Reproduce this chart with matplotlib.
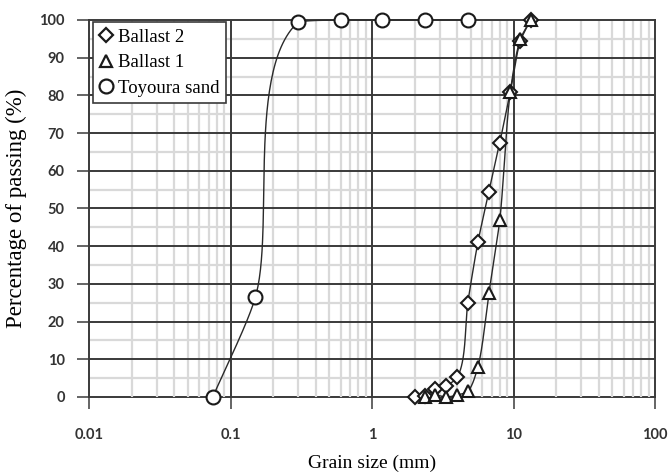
import numpy as np
import matplotlib
matplotlib.use("Agg")
import matplotlib.pyplot as plt
from matplotlib.lines import Line2D
from matplotlib.ticker import NullLocator, FixedLocator
from matplotlib.font_manager import FontProperties

# Sieve sizes (mm) and percentage passing for each material
toyoura_size = [0.075, 0.15, 0.3, 0.6, 1.18, 2.36, 4.75]
toyoura_pass = [0.0, 26.5, 99.4, 100.0, 100.0, 100.0, 100.0]

ballast1_size = [2.36, 2.8, 3.35, 4.0, 4.75, 5.6, 6.7, 8.0, 9.5, 11.2, 13.2]
ballast1_pass = [0.0, 0.5, 0.0, 0.5, 1.5, 8.0, 27.5, 47.0, 81.0, 95.0, 100.0]

ballast2_size = [2.0, 2.36, 2.8, 3.35, 4.0, 4.75, 5.6, 6.7, 8.0, 9.5, 11.2, 13.2]
ballast2_pass = [0.0, 0.3, 2.0, 3.0, 5.2, 25.0, 41.0, 54.5, 67.5, 81.0, 94.5, 100.0]

x_ticks = [0.01, 0.1, 1, 10, 100]
x_tick_labels = ["0.01", "0.1", "1", "10", "100"]
y_ticks = list(range(0, 101, 10))

DARK = "#3a3a3a"
LIGHT = "#d9d9d9"
TICK_TXT = "#333333"

fig = plt.figure(figsize=(6.72, 4.73), dpi=100)
ax = fig.add_axes([89 / 672, 1 - 397 / 473, 566 / 672, 377 / 473])
ax.set_xscale("log")

# grid: light minor lines, dark major lines
minor_x = [k * 10.0 ** d for d in range(-2, 2) for k in range(2, 10)]
minor_y = list(range(5, 100, 10))
ax.vlines(minor_x, 0, 100, colors=LIGHT, lw=1.6, zorder=1.0)
ax.hlines(minor_y, 0.01, 100, colors=LIGHT, lw=1.6, zorder=1.0)
ax.hlines(y_ticks[1:-1], 0.01, 100, colors=DARK, lw=1.4, zorder=1.2)
ax.vlines(x_ticks[1:-1], 0, 100, colors=DARK, lw=1.4, zorder=1.2)

ax.set_xlim(0.01, 100)
ax.set_ylim(0, 100)

for name, sp in ax.spines.items():
    sp.set_color(DARK)
    sp.set_linewidth(1.4)
ax.spines["bottom"].set_zorder(0.9)

ax.xaxis.set_major_locator(FixedLocator(x_ticks))
ax.xaxis.set_minor_locator(NullLocator())
ax.set_xticklabels(x_tick_labels)
ax.set_yticks(y_ticks)
ax.yaxis.set_minor_locator(NullLocator())

tick_font = FontProperties(family="Lato", weight="bold", size=10.5)
ax.tick_params(axis="x", which="major", direction="out", length=8.5, width=1.1,
               color=DARK, pad=14, labelcolor=TICK_TXT)
ax.tick_params(axis="y", which="major", direction="out", length=8.5, width=1.1,
               color=DARK, pad=9, labelcolor=TICK_TXT)
for lab in ax.get_xticklabels() + ax.get_yticklabels():
    lab.set_fontproperties(tick_font)

ax.set_xlabel("Grain size (mm)", family="Liberation Serif", size=14, labelpad=9)
ax.set_ylabel("Percentage of passing (%)", family="Liberation Serif", size=16.5,
              labelpad=9)


def smooth_curve(xs, ys, n=60, k=0.25):
    """Bezier smoothing through the points, computed in screen space."""
    pts = ax.transData.transform(np.column_stack([xs, ys]))
    m = len(pts)
    seg = np.diff(pts, axis=0)
    seglen = np.hypot(seg[:, 0], seg[:, 1])
    seglen[seglen == 0] = 1e-9
    unit = seg / seglen[:, None]
    tang = np.zeros_like(pts)
    for i in range(m):
        t = np.zeros(2)
        if i > 0:
            t += unit[i - 1]
        if i < m - 1:
            t += unit[i]
        nrm = np.hypot(*t)
        tang[i] = t / nrm if nrm > 0 else t
    out = []
    for i in range(m - 1):
        p0, p3 = pts[i], pts[i + 1]
        h = seglen[i] * k
        p1 = p0 + tang[i] * h
        p2 = p3 - tang[i + 1] * h
        lo, hi = sorted((p0[1], p3[1]))
        p1[1] = np.clip(p1[1], lo, hi)
        p2[1] = np.clip(p2[1], lo, hi)
        t = np.linspace(0, 1, n)[:, None]
        c = ((1 - t) ** 3 * p0 + 3 * (1 - t) ** 2 * t * p1
             + 3 * (1 - t) * t ** 2 * p2 + t ** 3 * p3)
        out.append(c if i == 0 else c[1:])
    curve = np.vstack(out)
    data = ax.transData.inverted().transform(curve)
    return data[:, 0], data[:, 1]


series = [
    (ballast2_size, ballast2_pass, "D", 7.5, "Ballast 2"),
    (ballast1_size, ballast1_pass, "^", 9.0, "Ballast 1"),
    (toyoura_size, toyoura_pass, "o", 10.0, "Toyoura sand"),
]

handles = []
for xs, ys, mk, ms, label in series:
    cx, cy = smooth_curve(xs, ys)
    ax.plot(cx, cy, color="#2a2a2a", lw=1.0, zorder=3, clip_on=False)
    ax.plot(xs, ys, linestyle="none", marker=mk, ms=ms, mfc="white",
            mec="#1a1a1a", mew=1.5, zorder=4, clip_on=False)
    handles.append(Line2D([], [], linestyle="none", marker=mk, ms=ms, mfc="white",
                          mec="#1a1a1a", mew=1.6, label=label))

leg = ax.legend(handles=handles, loc="upper left", bbox_to_anchor=(0.007, 0.995),
                prop=FontProperties(family="Liberation Serif", size=13.5),
                frameon=True, fancybox=False, framealpha=1, edgecolor=DARK,
                handlelength=0.7, handletextpad=0.3, labelspacing=0.45,
                borderpad=0.35, borderaxespad=0.0)
leg.get_frame().set_linewidth(1.2)
leg.set_zorder(5)

fig.savefig("out.png", dpi=100)
